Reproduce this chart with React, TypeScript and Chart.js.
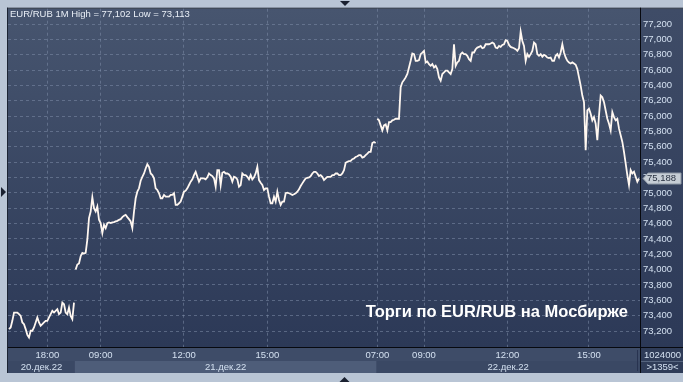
import React, { useEffect, useRef } from 'react';
import { Chart, registerables } from 'chart.js';

Chart.register(...registerables);

// 20.12.22 evening session (1-minute closes)
const day1 = [
  73225, 73247, 73333, 73441, 73441, 73441, 73420, 73398, 73312, 73290,
  73225, 73150, 73115, 73204, 73204, 73247, 73312, 73377, 73312, 73269,
  73290, 73312, 73333, 73333, 73377, 73420, 73463, 73441, 73463, 73485,
  73420, 73441, 73571, 73549, 73441, 73420, 73506, 73398, 73355, 73571,
];

// 21.12.22
const day2 = [
  74002, 74067, 74080, 74175, 74218, 74209, 74218, 74390, 74671, 74757,
  74943, 74800, 74757, 74822, 74649, 74606, 74477, 74585, 74541, 74606,
  74615, 74606, 74615, 74619, 74628, 74636, 74649, 74658, 74684, 74701,
  74714, 74684, 74658, 74628, 74541, 74757, 74930, 75016, 75060, 75159,
  75210, 75253, 75318, 75374, 75340, 75253, 75232, 75189, 75060, 75038,
  74995, 74930, 74930, 74973, 74951, 74951, 74951, 74973, 74973, 74995,
  74844, 74844, 74865, 74887, 74951, 75016, 75029, 75060, 75103, 75146,
  75176, 75232, 75275, 75210, 75146,
  75189, 75189, 75189, 75176, 75202, 75253, 75232, 75219, 75189, 75081,
  75297, 75297, 75102, 75262, 75275, 75253, 75253, 75241, 75210, 75146,
  75210, 75202, 75176, 75081, 75102, 75253, 75232, 75232, 75210, 75176,
  75232, 75176, 75202, 75253, 75340, 75167, 75133, 75103, 75038, 75060,
  75060, 74951, 74865, 74865, 74951, 74887, 75016, 74908, 74844, 74887,
  74887, 74995, 75003, 74995, 74986, 74973, 74982, 74995, 75016, 75047,
  75090, 75124, 75159, 75189, 75197, 75202, 75219, 75253, 75275, 75275,
  75253, 75219, 75232, 75210, 75167, 75189, 75210, 75210, 75210, 75232,
  75232, 75253, 75253, 75232, 75232, 75253, 75297, 75392, 75405, 75413,
  75418, 75439, 75448, 75469, 75478, 75491, 75491, 75460, 75469, 75491,
  75512, 75534, 75534, 75650, 75663, 75650,
];

// 22.12.22
const day3 = [
  75966, 75945, 75880, 75815, 75880, 75893, 75815, 75923, 75923, 75945,
  75953, 75966, 75966, 75966, 76376, 76441, 76471, 76505, 76549, 76635,
  76721, 76816, 76808, 76721, 76721, 76730, 76808, 76829, 76851, 76700,
  76713, 76678, 76656, 76678, 76635, 76656, 76613, 76505, 76462, 76549,
  76570, 76592, 76592, 76570, 76549, 76613, 76937, 76656, 76700, 76721,
  76808, 76829, 76808, 76808, 76786, 76743, 76721, 76829, 76829, 76872,
  76894, 76902, 76915, 76885, 76894, 76937, 76937, 76937, 76946, 76959,
  76946, 76894, 76885, 76915, 76902, 76928, 76937, 76989, 76980, 76928,
  76902, 76894, 76885, 76872, 76851, 76885, 77102, 76980, 76915, 76721,
  76808, 76773, 76808, 76851, 76959, 76937, 76808, 76786, 76808, 76773,
  76799, 76786, 76764, 76756, 76764, 76721, 76721, 76786, 76808, 76764,
  76829, 76937, 76829, 76764, 76721, 76700, 76687, 76700, 76687, 76670,
  76613, 76505, 76398, 76268, 76182, 75556, 76074, 76096, 76031, 75945,
  75988, 75901, 75686, 76009, 76268, 76247, 76182, 76074, 75966, 75901,
  75815, 76052, 75988, 75945, 75966,
  75837, 75750, 75664, 75535, 75384, 75233, 75103, 75297, 75254, 75276,
  75211, 75146, 75188,
];

const timeTickIndex = [23, 55, 105, 155, 221, 249, 299, 348];
const timeTickLabels = ['18:00', '09:00', '12:00', '15:00', '07:00', '09:00', '12:00', '15:00'];
const dateLabels = ['20.дек.22', '21.дек.22', '22.дек.22'];
const yTickValues = [
  73200, 73400, 73600, 73800, 74000, 74200, 74400, 74600, 74800, 75000, 75200,
  75400, 75600, 75800, 76000, 76200, 76400, 76600, 76800, 77000, 77200,
];
const titleText = 'EUR/RUB 1M High = 77,102 Low = 73,113';
const noteText = 'Торги по EUR/RUB на Мосбирже';
const volumeText = '1024000';
const countText = '>1359<';

const FONT = '"Liberation Sans", Arial, sans-serif';
const TXT = '#d3e0f0';
const GRID = 'rgba(125,140,168,0.55)';
const LINE = '#fff7f0';
const W = 683;
const H = 382;
const PANEL_BOTTOM = 373;

export default function App() {
  const ref = useRef<HTMLCanvasElement>(null);

  useEffect(() => {
    document.body.style.margin = '0';
    const days = [day1, day2, day3];
    const values = days.flat();
    const dayOf: number[] = [];
    days.forEach((d, k) => d.forEach(() => dayOf.push(k)));
    const starts = [0, day1.length, day1.length + day2.length, values.length];
    const points = values.map((v, i) => ({ x: i, y: v }));
    const fmt = (v: number) => Math.round(v).toLocaleString('en-US');
    const small = `9.5px ${FONT}`;

    const deco = {
      id: 'deco',
      beforeDraw(chart: any) {
        const { ctx, chartArea: a } = chart;
        const xs = chart.scales.x;
        ctx.save();
        ctx.fillStyle = '#b9c5d5';
        ctx.fillRect(0, 0, W, H);
        // plot panel
        const g = ctx.createLinearGradient(0, a.top, 0, a.bottom);
        g.addColorStop(0, '#47556f');
        g.addColorStop(1, '#2c3957');
        ctx.fillStyle = g;
        ctx.fillRect(a.left, a.top, a.right - a.left, a.bottom - a.top);
        // right panel
        const g2 = ctx.createLinearGradient(0, a.top, 0, a.bottom);
        g2.addColorStop(0, '#3f4c67');
        g2.addColorStop(1, '#2c3957');
        ctx.fillStyle = g2;
        ctx.fillRect(a.right, a.top, W - a.right, a.bottom - a.top);
        // bottom panel
        ctx.fillStyle = '#3e4c68';
        ctx.fillRect(a.left, a.bottom, W - a.left, PANEL_BOTTOM - a.bottom);
        const bandColors = ['#3a4864', '#4e5d79', '#3a4864'];
        for (let k = 0; k < 3; k++) {
          const x0 = Math.max(a.left, xs.getPixelForValue(starts[k] - 0.5));
          const x1 = Math.min(a.right, xs.getPixelForValue(starts[k + 1] - 0.5));
          ctx.fillStyle = bandColors[k];
          ctx.fillRect(x0, 361, x1 - x0, PANEL_BOTTOM - 361);
        }
        ctx.fillStyle = '#2f3c58';
        ctx.fillRect(a.right, a.bottom, W - a.right, PANEL_BOTTOM - a.bottom);
        // dark outer border
        ctx.fillStyle = '#1c2433';
        ctx.fillRect(a.left - 1, a.top - 1, W - a.left + 1, 1);
        ctx.fillRect(a.left - 1, a.top - 1, 1, PANEL_BOTTOM - a.top + 1);
        ctx.restore();
      },
      afterDraw(chart: any) {
        const { ctx, chartArea: a } = chart;
        const xs = chart.scales.x;
        const ys = chart.scales.y;
        ctx.save();
        // axis lines
        ctx.fillStyle = '#07090f';
        ctx.fillRect(a.right, a.top - 1, 1, PANEL_BOTTOM - a.top + 1);
        ctx.fillRect(a.left, a.bottom, W - a.left, 1);
        // bottom separators
        ctx.fillStyle = '#283350';
        ctx.fillRect(a.right - 3, 350, 1, 21);
        ctx.fillStyle = '#56657f';
        ctx.fillRect(a.right + 1, 361, W - a.right - 1, 1);
        // date labels
        ctx.font = small;
        ctx.fillStyle = TXT;
        ctx.textAlign = 'center';
        ctx.textBaseline = 'middle';
        for (let k = 0; k < 3; k++) {
          const x0 = Math.max(a.left, xs.getPixelForValue(starts[k] - 0.5));
          const x1 = Math.min(a.right, xs.getPixelForValue(starts[k + 1] - 0.5));
          ctx.fillText(dateLabels[k], (x0 + x1) / 2, 367.5);
        }
        // right bottom texts
        ctx.fillText(volumeText, (a.right + W) / 2 + 1, 355);
        ctx.fillText(countText, (a.right + W) / 2 + 1, 367.5);
        // title
        ctx.textAlign = 'left';
        ctx.fillStyle = '#e8eef6';
        ctx.fillText(titleText, 10, 14);
        // note
        ctx.font = `bold 16.5px ${FONT}`;
        ctx.fillStyle = '#ffffff';
        ctx.textAlign = 'right';
        ctx.fillText(noteText, 628, 312);
        // last value marker
        const last = values[values.length - 1];
        const y = Math.round(ys.getPixelForValue(last)) + 0.5;
        ctx.beginPath();
        ctx.moveTo(a.right + 3, y);
        ctx.lineTo(a.right + 8, y - 5.5);
        ctx.lineTo(W - 2, y - 5.5);
        ctx.lineTo(W - 2, y + 5.5);
        ctx.lineTo(a.right + 8, y + 5.5);
        ctx.closePath();
        ctx.fillStyle = '#c6cdd5';
        ctx.fill();
        ctx.strokeStyle = '#8d97a4';
        ctx.lineWidth = 1;
        ctx.stroke();
        ctx.font = small;
        ctx.fillStyle = '#2a3242';
        ctx.textAlign = 'left';
        ctx.fillText(fmt(last), a.right + 7, y);
        // frame arrows
        ctx.fillStyle = '#1a2130';
        ctx.beginPath();
        ctx.moveTo(340, 1); ctx.lineTo(350, 1); ctx.lineTo(345, 6); ctx.closePath(); ctx.fill();
        ctx.beginPath();
        ctx.moveTo(339.5, 382); ctx.lineTo(349.5, 382); ctx.lineTo(344.5, 377); ctx.closePath(); ctx.fill();
        ctx.beginPath();
        ctx.moveTo(1, 187); ctx.lineTo(1, 197); ctx.lineTo(6, 192); ctx.closePath(); ctx.fill();
        ctx.restore();
      },
    };

    const chart = new Chart(ref.current as HTMLCanvasElement, {
      type: 'line',
      data: {
        datasets: [
          {
            data: points,
            borderColor: LINE,
            borderWidth: 1.8,
            pointRadius: 0,
            tension: 0,
            fill: false,
            segment: {
              borderColor: (c: any) =>
                dayOf[c.p0DataIndex] !== dayOf[c.p1DataIndex] ? 'rgba(0,0,0,0)' : LINE,
            },
          },
        ],
      },
      options: {
        responsive: false,
        animation: false,
        events: [],
        layout: { padding: { left: 8, top: 8, right: 0, bottom: 0 } },
        plugins: {
          legend: { display: false },
          tooltip: { enabled: false },
        },
        scales: {
          x: {
            type: 'linear',
            position: 'bottom',
            min: -0.6,
            max: 378.6,
            grid: { color: GRID, drawTicks: false, lineWidth: 1 },
            border: { display: false, dash: [3, 3] },
            ticks: {
              autoSkip: false,
              maxRotation: 0,
              padding: 3,
              color: TXT,
              font: { family: FONT, size: 9.5 },
              callback: (_v: any, i: number) => timeTickLabels[i] ?? '',
            },
            afterBuildTicks: (s: any) => {
              s.ticks = timeTickIndex.map((v) => ({ value: v }));
            },
            afterFit: (s: any) => {
              s.height = 35;
            },
          },
          y: {
            position: 'right',
            min: 72992,
            max: 77400,
            grid: { color: GRID, drawTicks: false, lineWidth: 1 },
            border: { display: false, dash: [3, 3] },
            ticks: {
              padding: 3,
              color: TXT,
              font: { family: FONT, size: 9.5 },
              callback: (v: any) => fmt(Number(v)),
            },
            afterBuildTicks: (s: any) => {
              s.ticks = yTickValues.map((v) => ({ value: v }));
            },
            afterFit: (s: any) => {
              s.width = 43;
            },
          },
        },
      },
      plugins: [deco],
    } as any);

    return () => chart.destroy();
  }, []);

  return (
    <div style={{ position: 'absolute', left: 0, top: 0, width: W, height: H }}>
      <canvas ref={ref} width={W} height={H} style={{ display: 'block', width: W, height: H }} />
    </div>
  );
}
